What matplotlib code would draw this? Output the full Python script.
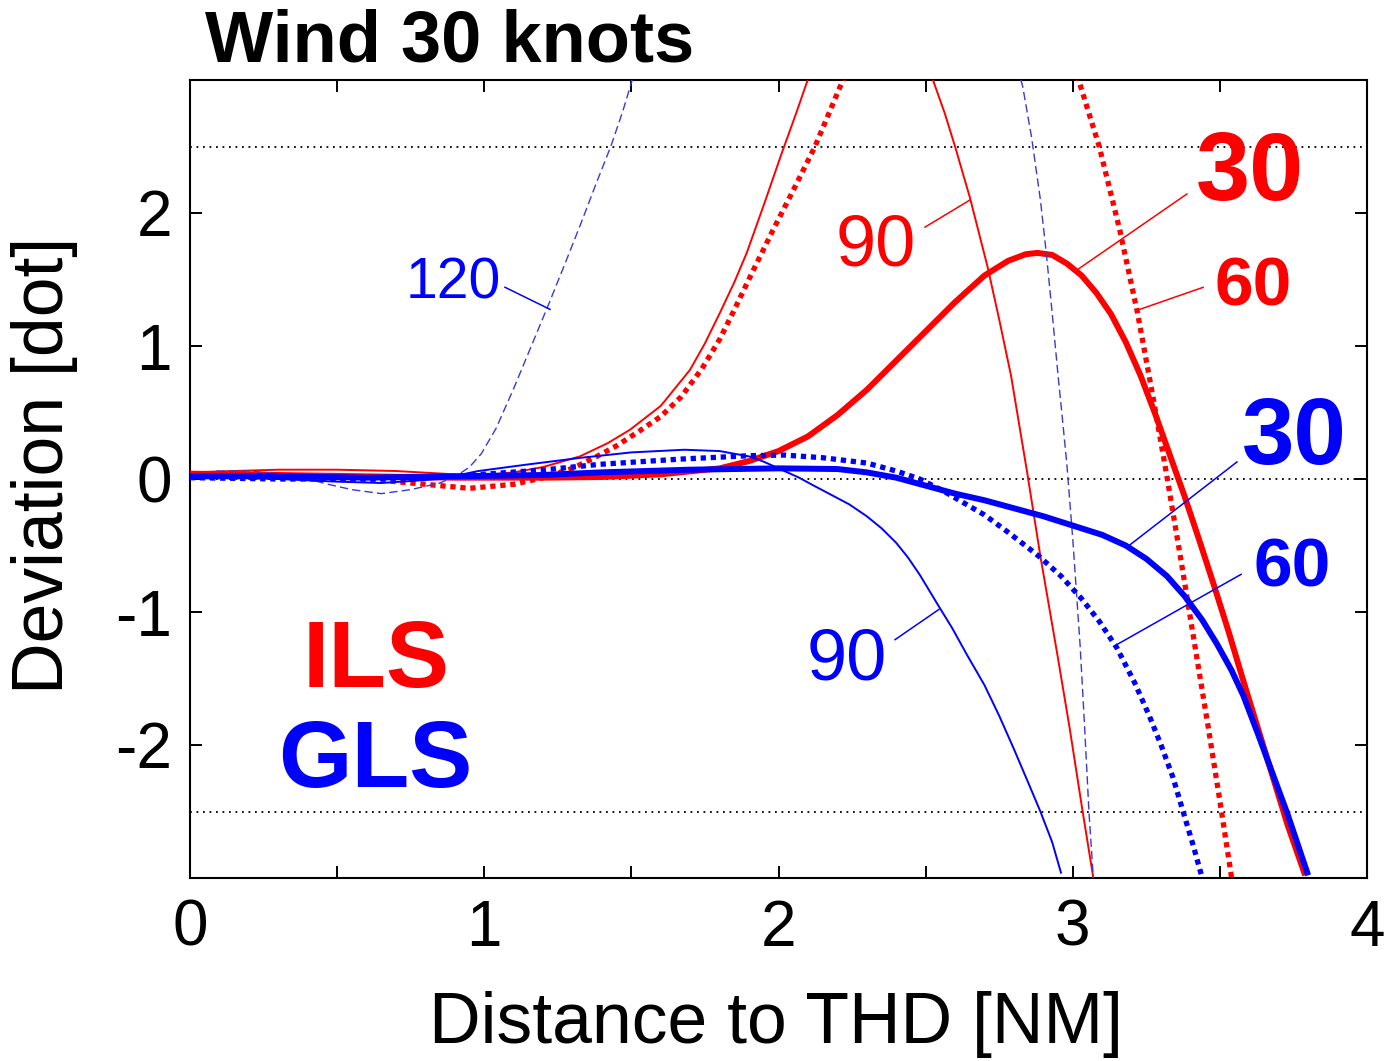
import matplotlib
matplotlib.use("Agg")
import matplotlib.pyplot as plt

plt.rcParams['font.family'] = ['Liberation Sans', 'DejaVu Sans']

# ---------------- data ----------------
ils30_x = [0.0, 0.3, 0.6, 0.9, 1.2, 1.4, 1.6, 1.8, 1.9, 2.0, 2.1, 2.2, 2.3, 2.4, 2.5, 2.6,
           2.7, 2.78, 2.84, 2.88, 2.93, 2.98, 3.03, 3.08, 3.13, 3.18, 3.23, 3.28, 3.33,
           3.38, 3.43, 3.48, 3.53, 3.58, 3.63, 3.68, 3.73, 3.79]
ils30_y = [0.04, 0.03, 0.02, 0.01, 0.01, 0.015, 0.035, 0.08, 0.135, 0.21, 0.32, 0.48, 0.67,
           0.89, 1.11, 1.33, 1.53, 1.64, 1.69, 1.70, 1.685, 1.62, 1.53, 1.40, 1.24, 1.03,
           0.78, 0.49, 0.18, -0.13, -0.46, -0.80, -1.15, -1.52, -1.88, -2.24, -2.60, -2.98]

ils60_x = [0.0, 0.3, 0.6, 0.8, 0.95, 1.1, 1.2, 1.3, 1.383, 1.45, 1.52, 1.6, 1.67, 1.74, 1.80,
           1.845, 1.91, 1.981, 2.05, 2.124, 2.219, 2.3, 2.45, 2.6, 2.75, 2.9, 3.02, 3.09,
           3.16, 3.22, 3.27, 3.32, 3.37, 3.42, 3.46, 3.50, 3.54]
ils60_y = [0.03, 0.02, 0.0, -0.04, -0.07, -0.04, 0.01, 0.08, 0.17, 0.25, 0.35, 0.47, 0.62,
           0.83, 1.05, 1.25, 1.55, 1.87, 2.17, 2.5, 3.0, 3.45, 4.1, 4.4, 4.3, 3.8, 3.0, 2.5,
           1.87, 1.25, 0.65, 0.02, -0.64, -1.32, -1.86, -2.42, -3.0]

ils90_x = [0.0, 0.15, 0.3, 0.5, 0.7, 0.9, 1.0, 1.1, 1.2, 1.325, 1.42, 1.495, 1.6, 1.699,
           1.75, 1.801, 1.85, 1.892, 1.95, 2.011, 2.06, 2.107, 2.2, 2.31, 2.42, 2.525, 2.565,
           2.60, 2.65, 2.71, 2.75, 2.79, 2.845, 2.89, 2.95, 2.99, 3.03, 3.07]
ils90_y = [0.05, 0.06, 0.07, 0.07, 0.06, 0.035, 0.03, 0.05, 0.09, 0.17, 0.27, 0.37, 0.55,
           0.82, 1.02, 1.25, 1.48, 1.70, 2.06, 2.45, 2.75, 3.05, 3.45, 3.6, 3.4, 3.0, 2.75,
           2.5, 2.12, 1.60, 1.2, 0.78, 0.05, -0.58, -1.35, -1.88, -2.45, -3.0]

gls30_x = [0.0, 0.3, 0.6, 0.9, 1.2, 1.4, 1.7, 2.0, 2.2, 2.3, 2.4, 2.5, 2.6, 2.7, 2.8, 2.9,
           3.0, 3.1, 3.18, 3.25, 3.32, 3.38, 3.44, 3.49, 3.54, 3.58, 3.63, 3.68, 3.73, 3.80]
gls30_y = [0.02, 0.02, 0.01, 0.02, 0.03, 0.05, 0.07, 0.08, 0.075, 0.05, 0.01, -0.05, -0.11,
           -0.16, -0.22, -0.28, -0.35, -0.42, -0.50, -0.60, -0.73, -0.88, -1.06, -1.24,
           -1.44, -1.63, -1.92, -2.22, -2.52, -2.98]

gls60_x = [0.0, 0.3, 0.6, 0.9, 1.21, 1.39, 1.67, 1.9, 2.02, 2.15, 2.30, 2.40, 2.48, 2.56,
           2.63, 2.70, 2.78, 2.85, 2.89, 2.96, 3.03, 3.09, 3.15, 3.21, 3.26, 3.30, 3.34,
           3.375, 3.41, 3.44]
gls60_y = [0.01, 0.0, 0.0, 0.02, 0.07, 0.11, 0.15, 0.175, 0.18, 0.16, 0.12, 0.06, 0.0, -0.09,
           -0.18, -0.27, -0.40, -0.52, -0.59, -0.73, -0.90, -1.07, -1.27, -1.53, -1.78, -2.0,
           -2.24, -2.5, -2.76, -3.0]

gls90_x = [0.0, 0.3, 0.5, 0.65, 0.85, 0.98, 1.15, 1.33, 1.5, 1.68, 1.80, 1.90, 1.95, 2.0,
           2.07, 2.12, 2.18, 2.24, 2.30, 2.35, 2.40, 2.44, 2.48, 2.54, 2.59, 2.64, 2.70,
           2.75, 2.80, 2.85, 2.89, 2.93, 2.96]
gls90_y = [0.02, 0.0, -0.02, -0.03, 0.0, 0.06, 0.11, 0.16, 0.20, 0.22, 0.21, 0.17, 0.13, 0.08,
           0.01, -0.05, -0.12, -0.19, -0.28, -0.37, -0.48, -0.59, -0.72, -0.94, -1.12, -1.32,
           -1.55, -1.78, -2.03, -2.29, -2.5, -2.73, -2.96]

gls120_x = [0.09, 0.2, 0.3, 0.4, 0.47, 0.55, 0.65, 0.75, 0.85, 0.91, 0.95, 0.99, 1.04, 1.10,
            1.16, 1.22, 1.28, 1.33, 1.38, 1.43, 1.47, 1.50, 1.53, 2.2, 2.80, 2.83, 2.86,
            2.89, 2.91, 2.93, 2.95, 2.965, 2.98, 3.0, 3.025, 3.04, 3.055, 3.07]
gls120_y = [0.06, 0.06, 0.04, 0.0, -0.04, -0.08, -0.11, -0.08, -0.03, 0.03, 0.09, 0.19, 0.38,
            0.68, 1.0, 1.32, 1.65, 1.93, 2.22, 2.5, 2.76, 2.98, 3.2, 6.0, 3.2, 2.95, 2.57,
            2.1, 1.7, 1.25, 0.78, 0.45, 0.11, -0.45, -1.25, -1.85, -2.5, -3.0]

ref_levels = [2.5, 0.0, -2.5]
xtick_vals = [0, 0.5, 1, 1.5, 2, 2.5, 3, 3.5, 4]
xtick_labels = ['0', '', '1', '', '2', '', '3', '', '4']
ytick_vals = [-2, -1, 0, 1, 2]
ytick_labels = ['-2', '-1', '0', '1', '2']

RED = '#ff0000'
BLUE = '#0000ff'
BLUE_L = '#3a3ad0'

# ---------------- figure ----------------
fig = plt.figure(figsize=(13.89, 10.61), dpi=100)
ax = fig.add_axes([190/1389, 1-878/1061, (1367-190)/1389, (878-80)/1061])
ax.set_xlim(0, 4)
ax.set_ylim(-3, 3)

for lv in ref_levels:
    ax.axhline(lv, color='black', lw=1.3, dashes=(1, 2.6), zorder=1)

ax.plot(ils90_x, ils90_y, color=RED, lw=1.4, zorder=3)
ax.plot(ils60_x, ils60_y, color=RED, lw=3.8, dashes=(1.0, 0.9), zorder=3)
ax.plot(ils30_x, ils30_y, color=RED, lw=4.3, zorder=3, solid_capstyle='butt')
ax.plot(gls120_x, gls120_y, color=BLUE_L, lw=1.0, dashes=(6, 3), zorder=4)
ax.plot(gls90_x, gls90_y, color=BLUE, lw=1.4, zorder=4)
ax.plot(gls60_x, gls60_y, color=BLUE, lw=3.8, dashes=(1.0, 0.9), zorder=4)
ax.plot(gls30_x, gls30_y, color=BLUE, lw=4.3, zorder=4, solid_capstyle='butt')

# leader lines and curve labels
leaders = [
    ((1.0705, 1.4415), (1.2235, 1.2755), BLUE),
    ((2.498, 1.894), (2.651, 2.098), RED),
    ((3.388, 2.143), (3.018, 1.577), RED),
    ((3.443, 1.441), (3.218, 1.268), RED),
    ((3.558, 0.128), (3.188, -0.506), BLUE),
    ((3.572, -0.717), (3.150, -1.245), BLUE),
    ((2.396, -1.208), (2.545, -0.981), BLUE),
]
for (a, b, c) in leaders:
    ax.plot([a[0], b[0]], [a[1], b[1]], color=c, lw=1.1, zorder=5)

ax.text(0.894, 1.358, '120', color=BLUE, fontsize=41, ha='center', va='baseline')
ax.text(2.331, 1.608, '90', color=RED, fontsize=52, ha='center', va='baseline')
ax.text(3.602, 2.098, '30', color=RED, fontsize=70, fontweight='bold', ha='center', va='baseline')
ax.text(3.613, 1.306, '60', color=RED, fontsize=50, fontweight='bold', ha='center', va='baseline')
ax.text(3.752, 0.113, '30', color=BLUE, fontsize=68, fontweight='bold', ha='center', va='baseline')
ax.text(3.745, -0.808, '60', color=BLUE, fontsize=50, fontweight='bold', ha='center', va='baseline')
ax.text(2.233, -1.509, '90', color=BLUE, fontsize=52, ha='center', va='baseline')
ax.text(0.632, -1.562, 'ILS', color=RED, fontsize=68, fontweight='bold', ha='center', va='baseline')
ax.text(0.629, -2.317, 'GLS', color=BLUE, fontsize=68, fontweight='bold', ha='center', va='baseline')

# axes styling
for s in ax.spines.values():
    s.set_linewidth(1.5)
ax.set_xticks(xtick_vals)
ax.set_xticklabels(xtick_labels)
ax.set_yticks(ytick_vals)
ax.set_yticklabels(ytick_labels)
ax.tick_params(direction='in', length=8.5, width=1.4, top=True, right=True,
               labelsize=46)
ax.tick_params(axis='x', pad=15)
ax.tick_params(axis='y', pad=13)

fig.text(205/1389, 1-62/1061, 'Wind 30 knots', fontsize=52, fontweight='bold',
         ha='left', va='baseline')
fig.text(776/1389, 1-1043/1061, 'Distance to THD [NM]', fontsize=51.5,
         ha='center', va='baseline')
fig.text(45/1389, 1-465/1061, 'Deviation [dot]', fontsize=51.5, rotation=90,
         ha='center', va='center')

fig.savefig('out.png', dpi=100, facecolor='white')
